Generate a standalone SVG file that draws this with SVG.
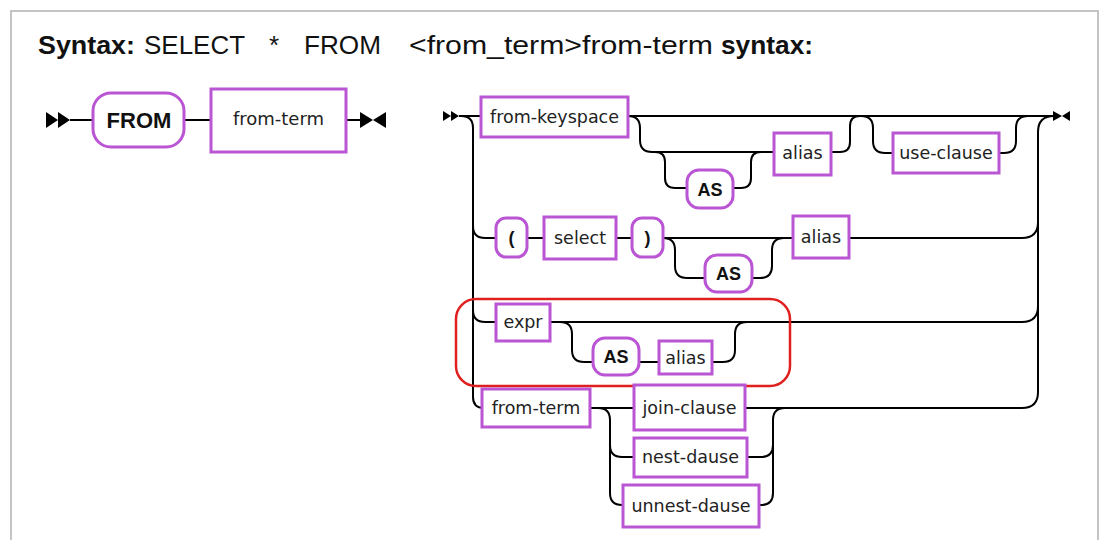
<svg xmlns="http://www.w3.org/2000/svg" width="1102" height="540" viewBox="0 0 1102 540">
<style>
.bx{fill:#fff;stroke:#ba55d3;stroke-width:3}
.ln{fill:none;stroke:#000;stroke-width:2}
.lb{font-family:"DejaVu Sans",sans-serif;font-size:17.5px;fill:#222;text-anchor:middle}
.kw{font-family:"Liberation Sans",Arial,sans-serif;font-weight:bold;font-size:18px;fill:#111;text-anchor:middle}
.tt{font-family:"Liberation Sans",Arial,sans-serif;font-size:26px;fill:#111}
.tb{font-weight:bold}
.ar{fill:#000}
</style>
<rect width="1102" height="540" fill="#fff"/>
<path d="M11,541 V11 H1098 V541" fill="none" stroke="#c4c4c4" stroke-width="2"/>
<g id="title">
<text class="tt tb" x="38" y="54" textLength="97" lengthAdjust="spacingAndGlyphs">Syntax:</text>
<text class="tt" x="144" y="54" textLength="101" lengthAdjust="spacingAndGlyphs">SELECT</text>
<text class="tt" x="269" y="54">*</text>
<text class="tt" x="304" y="54" textLength="77" lengthAdjust="spacingAndGlyphs">FROM</text>
<text class="tt" x="409" y="54" textLength="304" lengthAdjust="spacingAndGlyphs">&lt;from_term&gt;from-term</text>
<text class="tt tb" x="721" y="54" textLength="92" lengthAdjust="spacingAndGlyphs">syntax:</text>
</g>
<g id="connectors">
<path class="ln" d="M70,120 H93 M184,120 H211 M346,120 H362"/>
<path class="ar" d="M46,112 L58,120 L46,128 Z M58,112 L70,120 L58,128 Z M360,112 L373,120 L360,128 Z M386,112 L373,120 L386,128 Z"/>
<path class="ar" d="M443,111 L451,116 L443,121 Z M451,111 L459,116 L451,121 Z M1053,111 L1062,116 L1053,121 Z M1070,111 L1062,116 L1070,121 Z"/>
<path class="ln" d="M459,116 H481 M628,116 H1054"/>
<path class="ln" d="M461,116 q12,0 12,12 V397 q0,11 11,11 H482"/>
<path class="ln" d="M473,226 q0,12 12,12 H496 M527,238 H544 M616,238 H632 M663,238 H793"/>
<path class="ln" d="M473,310 q0,12 12,12 H496"/>
<path class="ln" d="M628,116 q12,0 12,12 v12 q0,12 12,12 H774"/>
<path class="ln" d="M655,152 q10,0 10,10 v16 q0,10 10,10 H687"/>
<path class="ln" d="M733,188 h8 q10,0 10,-10 v-16 q0,-10 10,-10 H774"/>
<path class="ln" d="M831,152 h9 q10,0 10,-10 v-16 q0,-10 10,-10"/>
<path class="ln" d="M861,116 q12,0 12,12 v13 q0,12 12,12 H893"/>
<path class="ln" d="M999,153 h5 q12,0 12,-12 v-13 q0,-12 12,-12"/>
<path class="ln" d="M1054,116 q-16,0 -16,16 V392 q0,16 -16,16 H745"/>
<path class="ln" d="M849,238 H1022 q16,0 16,-16"/>
<path class="ln" d="M550,322 H1022 q16,0 16,-16"/>
<path class="ln" d="M663,238 q12,0 12,12 v16 q0,12 12,12 H705"/>
<path class="ln" d="M752,278 h8 q12,0 12,-12 v-16 q0,-12 12,-12 H793"/>
<path class="ln" d="M550,322 h10 q12,0 12,12 v16 q0,12 12,12 H593 M639,362 H659"/>
<path class="ln" d="M712,362 h11 q12,0 12,-12 v-16 q0,-12 12,-12"/>
<path class="ln" d="M590,408 H634"/>
<path class="ln" d="M590,408 h8 q12,0 12,12 V445 q0,12 12,12 H634"/>
<path class="ln" d="M610,445 V493 q0,12 12,12 H623"/>
<path class="ln" d="M747,457 h14 q12,0 12,-12 V420 q0,-12 12,-12"/>
<path class="ln" d="M759,505 h2 q12,0 12,-12 V445"/>
</g>
<rect x="456" y="299" width="334" height="87" rx="20" fill="none" stroke="#e0201e" stroke-width="2.5"/>
<g id="n-from"><rect class="bx" x="93" y="93" width="91" height="54" rx="18"/><text class="kw" x="139" y="128" style="font-size:22px">FROM</text></g>
<g id="n-fromterm-l"><rect class="bx" x="211" y="89" width="135" height="63"/><text class="lb" x="278.5" y="125" style="font-size:18px">from-term</text></g>
<g id="n-fromkeyspace"><rect class="bx" x="481" y="97" width="147" height="40"/><text class="lb" x="554.5" y="123">from-keyspace</text></g>
<g id="n-as1"><rect class="bx" x="687" y="170" width="46" height="38" rx="12"/><text class="kw" x="710" y="196">AS</text></g>
<g id="n-alias1"><rect class="bx" x="774" y="133" width="57" height="42"/><text class="lb" x="802.5" y="159">alias</text></g>
<g id="n-useclause"><rect class="bx" x="893" y="133" width="106" height="40"/><text class="lb" x="946" y="159">use-clause</text></g>
<g id="n-lparen"><rect class="bx" x="496" y="218" width="31" height="39" rx="10"/><text class="kw" x="511.5" y="244">(</text></g>
<g id="n-select"><rect class="bx" x="544" y="217" width="72" height="42"/><text class="lb" x="580" y="244">select</text></g>
<g id="n-rparen"><rect class="bx" x="632" y="218" width="31" height="39" rx="10"/><text class="kw" x="647.5" y="244">)</text></g>
<g id="n-as2"><rect class="bx" x="705" y="255" width="47" height="37" rx="12"/><text class="kw" x="728.5" y="280">AS</text></g>
<g id="n-alias2"><rect class="bx" x="793" y="216" width="56" height="42"/><text class="lb" x="821" y="243">alias</text></g>
<g id="n-expr"><rect class="bx" x="496" y="304" width="54" height="37"/><text class="lb" x="523" y="328">expr</text></g>
<g id="n-as3"><rect class="bx" x="593" y="338" width="46" height="37" rx="12"/><text class="kw" x="616" y="363">AS</text></g>
<g id="n-alias3"><rect class="bx" x="659" y="341" width="53" height="33"/><text class="lb" x="685.5" y="364">alias</text></g>
<g id="n-fromterm-r"><rect class="bx" x="482" y="389" width="108" height="38"/><text class="lb" x="536" y="414">from-term</text></g>
<g id="n-joinclause"><rect class="bx" x="634" y="385" width="111" height="45"/><text class="lb" x="689.5" y="414">join-clause</text></g>
<g id="n-nestclause"><rect class="bx" x="634" y="438" width="113" height="39"/><text class="lb" x="690.5" y="463">nest-dause</text></g>
<g id="n-unnestclause"><rect class="bx" x="623" y="485" width="136" height="42"/><text class="lb" x="691" y="512">unnest-dause</text></g>
</svg>
